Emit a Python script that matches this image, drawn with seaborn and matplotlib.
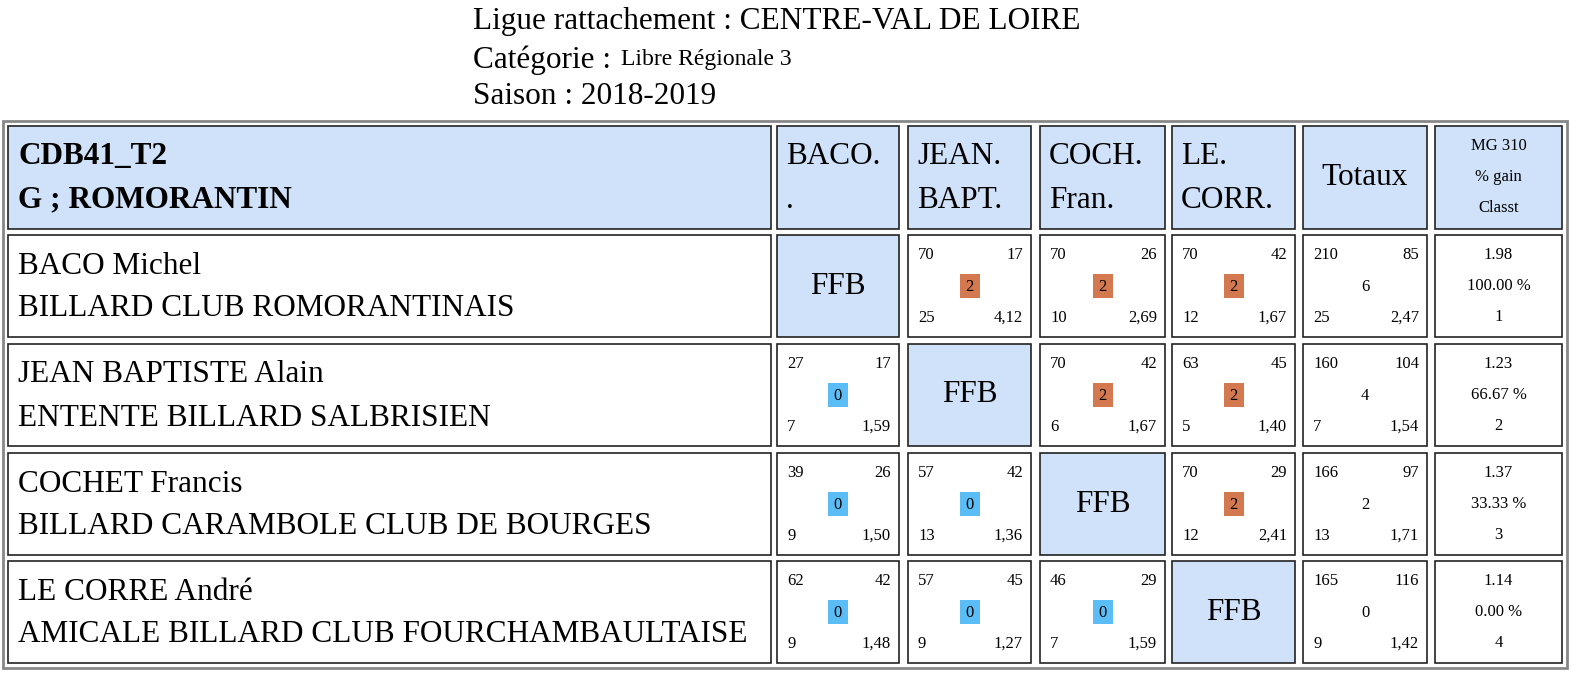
import matplotlib
matplotlib.use("Agg")
import matplotlib.pyplot as plt
from matplotlib.patches import Rectangle
import seaborn as sns

sns.set_style("white")
plt.rcParams["font.family"] = "Liberation Serif"
plt.rcParams["text.color"] = "black"

# ---- data ----
players = ["BACO Michel", "JEAN BAPTISTE Alain", "COCHET Francis", "LE CORRE André"]
clubs = ["BILLARD CLUB ROMORANTINAIS", "ENTENTE BILLARD SALBRISIEN",
         "BILLARD CARAMBOLE CLUB DE BOURGES",
         "AMICALE BILLARD CLUB FOURCHAMBAULTAISE"]
col_heads = [("BACO.", "."), ("JEAN.", "BAPT."), ("COCH.", "Fran."), ("LE.", "CORR.")]
# per match: points, opponent points, match points, innings, average
matches = [
    [None, (70, 17, 2, 25, "4,12"), (70, 26, 2, 10, "2,69"), (70, 42, 2, 12, "1,67")],
    [(27, 17, 0, 7, "1,59"), None, (70, 42, 2, 6, "1,67"), (63, 45, 2, 5, "1,40")],
    [(39, 26, 0, 9, "1,50"), (57, 42, 0, 13, "1,36"), None, (70, 29, 2, 12, "2,41")],
    [(62, 42, 0, 9, "1,48"), (57, 45, 0, 9, "1,27"), (46, 29, 0, 7, "1,59"), None],
]
totals = [(210, 85, 6, 25, "2,47"), (160, 104, 4, 7, "1,54"),
          (166, 97, 2, 13, "1,71"), (165, 116, 0, 9, "1,42")]
mg = ["1.98", "1.23", "1.37", "1.14"]
gain = ["100.00 %", "66.67 %", "33.33 %", "0.00 %"]
classt = [1, 2, 3, 4]

HEAD_BG = "#cfe2f9"
WIN = "#d4784f"
LOSS = "#5bbdf6"
BIG = 22.5
SMALL = 12

# ---- layout (pixels) ----
col_x = [(8, 771), (777, 899), (908, 1031), (1040, 1165), (1172, 1295), (1303, 1427), (1435, 1562)]
row_y = [(126, 229), (235, 337), (344, 446), (453, 555), (561, 663)]

fig = plt.figure(figsize=(15.72, 6.73), dpi=100)
ax = fig.add_axes([0, 0, 1, 1])
ax.set_xlim(0, 1572)
ax.set_ylim(673, 0)
ax.axis("off")

ax.text(473, 22, "Ligue rattachement : CENTRE-VAL DE LOIRE", fontsize=BIG, va="center")
ax.text(473, 60, "Catégorie :", fontsize=BIG, va="center")
ax.text(621, 60, "Libre Régionale 3", fontsize=17, va="center")
ax.text(473, 97, "Saison : 2018-2019", fontsize=BIG, va="center")

ax.add_patch(Rectangle((3, 121), 1564, 547, fill=False, ec="#888888", lw=2))


def cell(c, r, bg="white"):
    x0, x1 = col_x[c]
    y0, y1 = row_y[r]
    ax.add_patch(Rectangle((x0, y0), x1 - x0, y1 - y0, fc=bg, ec="#222222", lw=1.2))
    return x0, x1, y0, y1


def score_cell(c, r, vals):
    x0, x1, y0, y1 = cell(c, r)
    a, b, pts, inn, avg = vals
    ax.text(x0 + 10, y0 + 20, str(a), fontsize=SMALL, va="center")
    ax.text(x1 - 8, y0 + 20, str(b), fontsize=SMALL, va="center", ha="right")
    ax.text(x0 + 10, y1 - 19, str(inn), fontsize=SMALL, va="center")
    ax.text(x1 - 8, y1 - 19, avg, fontsize=SMALL, va="center", ha="right")
    xm, ym = (x0 + x1) / 2, (y0 + y1) / 2
    if c < 5:
        ax.add_patch(Rectangle((xm - 10, ym - 12), 20, 24, fc=WIN if pts == 2 else LOSS, ec="none"))
    ax.text(xm, ym + 1, str(pts), fontsize=SMALL, va="center", ha="center")


# header
x0, x1, y0, y1 = cell(0, 0, HEAD_BG)
ax.text(x0 + 10, y0 + 31, "CDB41_T2", fontsize=BIG, weight="bold", va="center")
ax.text(x0 + 10, y0 + 74, "G ; ROMORANTIN", fontsize=BIG, weight="bold", va="center")
for i, (h1, h2) in enumerate(col_heads):
    x0, x1, y0, y1 = cell(i + 1, 0, HEAD_BG)
    ax.text(x0 + 9, y0 + 31, h1, fontsize=BIG, va="center")
    ax.text(x0 + 9, y0 + 74, h2, fontsize=BIG, va="center")
x0, x1, y0, y1 = cell(5, 0, HEAD_BG)
ax.text((x0 + x1) / 2, (y0 + y1) / 2, "Totaux", fontsize=BIG, va="center", ha="center")
x0, x1, y0, y1 = cell(6, 0, HEAD_BG)
for k, t in enumerate(["MG 310", "% gain", "Classt"]):
    ax.text((x0 + x1) / 2, y0 + 20 + k * 31, t, fontsize=SMALL, va="center", ha="center")

# body
for r in range(4):
    x0, x1, y0, y1 = cell(0, r + 1)
    ax.text(x0 + 10, y0 + 31, players[r], fontsize=BIG, va="center")
    ax.text(x0 + 10, y0 + 74, clubs[r], fontsize=BIG, va="center")
    for c in range(4):
        if matches[r][c] is None:
            x0, x1, y0, y1 = cell(c + 1, r + 1, HEAD_BG)
            ax.text((x0 + x1) / 2, (y0 + y1) / 2, "FFB", fontsize=BIG, va="center", ha="center")
        else:
            score_cell(c + 1, r + 1, matches[r][c])
    score_cell(5, r + 1, totals[r])
    x0, x1, y0, y1 = cell(6, r + 1)
    for k, t in enumerate([mg[r], gain[r], str(classt[r])]):
        ax.text((x0 + x1) / 2, y0 + 20 + k * 31, t, fontsize=SMALL, va="center", ha="center")

fig.savefig("out.png", dpi=100)
